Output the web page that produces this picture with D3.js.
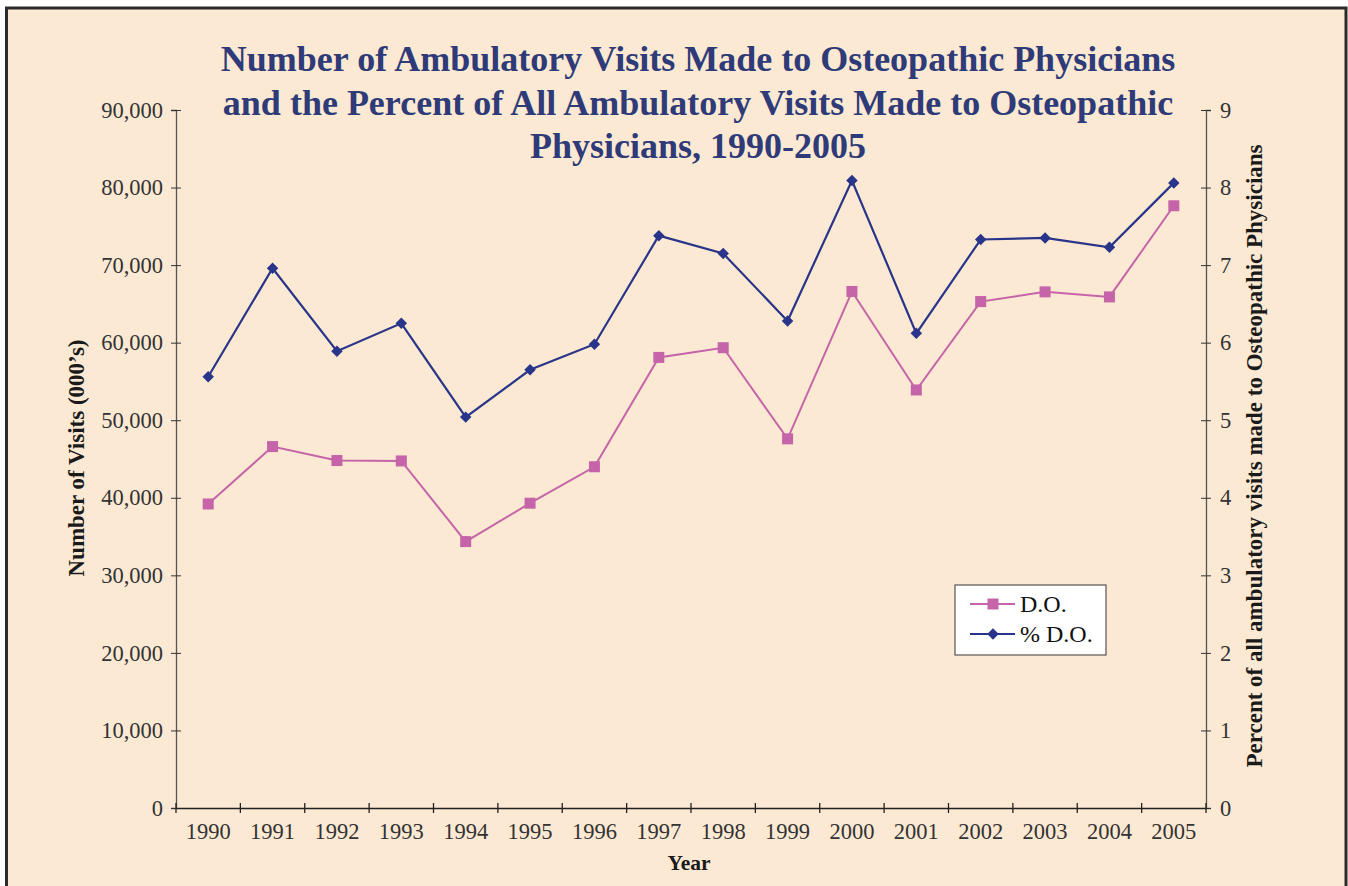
<!DOCTYPE html>
<html>
<head>
<meta charset="utf-8">
<script src="https://cdn.jsdelivr.net/npm/d3@7"></script>
<style>
  html, body { margin: 0; padding: 0; background: #ffffff; }
  svg { display: block; }
</style>
</head>
<body>
<svg id="chart" width="1348" height="886"></svg>
<script>
const years = ["1990","1991","1992","1993","1994","1995","1996","1997","1998","1999","2000","2001","2002","2003","2004","2005"];
const visits = [39200, 46600, 44800, 44750, 34350, 39300, 44000, 58100, 59350, 47600, 66600, 53900, 65300, 66550, 65900, 77650];
const pctVisits = [5.56, 6.96, 5.89, 6.25, 5.04, 5.65, 5.98, 7.38, 7.15, 6.28, 8.09, 6.12, 7.33, 7.35, 7.23, 8.06];
const leftTicks = [0, 10000, 20000, 30000, 40000, 50000, 60000, 70000, 80000, 90000];
const rightTicks = [0, 1, 2, 3, 4, 5, 6, 7, 8, 9];
const titleLines = [
  "Number of Ambulatory Visits Made to Osteopathic Physicians",
  "and the Percent of All Ambulatory Visits Made to Osteopathic",
  "Physicians, 1990-2005"
];

const font = "'Liberation Serif', 'DejaVu Serif', serif";
const pink = "#c564a8";
const navy = "#29358a";
const width = 1348, height = 886;
const margin = { top: 110, right: 142, bottom: 78, left: 176 };

const svg = d3.select("#chart");

// background + frame
svg.append("rect")
  .attr("x", 6.5).attr("y", 8)
  .attr("width", width - 8.5).attr("height", height + 10)
  .attr("fill", "#fce9d3")
  .attr("stroke", "#2b2b2b")
  .attr("stroke-width", 3);

const x = d3.scaleBand()
  .domain(years)
  .range([margin.left, width - margin.right]);

const y = d3.scaleLinear()
  .domain([0, 90000])
  .range([height - margin.bottom, margin.top]);

const y2 = d3.scaleLinear()
  .domain([0, 9])
  .range([height - margin.bottom, margin.top]);

const x0 = margin.left, x1 = width - margin.right, yb = height - margin.bottom;

// left axis
const gl = svg.append("g")
  .attr("transform", `translate(${x0},0)`)
  .call(d3.axisLeft(y).tickValues(leftTicks).tickFormat(d3.format(",")).tickSizeOuter(0).tickSize(5).tickPadding(8));
gl.select(".domain").attr("stroke", "#555").attr("stroke-width", 1.3);
gl.selectAll(".tick line").attr("x2", -5).attr("x1", 5).attr("stroke", "#333");
gl.selectAll("text")
  .attr("font-size", "22.5px").attr("font-family", font).attr("fill", "#333");

// right axis
const gr = svg.append("g")
  .attr("transform", `translate(${x1},0)`)
  .call(d3.axisRight(y2).tickValues(rightTicks).tickFormat(d3.format("d")).tickSizeOuter(0).tickSize(5).tickPadding(9));
gr.select(".domain").attr("stroke", "#555").attr("stroke-width", 1.3);
gr.selectAll(".tick line").attr("x1", -5).attr("x2", 5).attr("stroke", "#333");
gr.selectAll("text")
  .attr("font-size", "22.5px").attr("font-family", font).attr("fill", "#333");

// bottom axis (labels centered in band, ticks at band edges)
const gb = svg.append("g")
  .attr("transform", `translate(0,${yb})`)
  .call(d3.axisBottom(x).tickSize(0).tickPadding(15));
gb.select(".domain").attr("stroke", "#222").attr("stroke-width", 1.5);
gb.selectAll("text")
  .attr("font-size", "22.5px").attr("font-family", font).attr("fill", "#333");
gb.selectAll("line.cat")
  .data(years.concat(["end"]))
  .join("line")
  .attr("class", "cat")
  .attr("x1", d => d === "end" ? x1 : x(d))
  .attr("x2", d => d === "end" ? x1 : x(d))
  .attr("y1", -5).attr("y2", 5)
  .attr("stroke", "#222").attr("stroke-width", 1.3);

const cx = d => x(d) + x.bandwidth() / 2;

// D.O. line
const lineL = d3.line().x((d, i) => cx(years[i])).y(d => y(d));
svg.append("path")
  .datum(visits)
  .attr("fill", "none").attr("stroke", pink).attr("stroke-width", 2)
  .attr("d", lineL);
svg.selectAll("rect.sq")
  .data(visits)
  .join("rect")
  .attr("class", "sq")
  .attr("x", (d, i) => cx(years[i]) - 5.5)
  .attr("y", d => y(d) - 5.5)
  .attr("width", 11).attr("height", 11)
  .attr("fill", pink);

// % D.O. line
const lineR = d3.line().x((d, i) => cx(years[i])).y(d => y2(d));
svg.append("path")
  .datum(pctVisits)
  .attr("fill", "none").attr("stroke", navy).attr("stroke-width", 2.2)
  .attr("d", lineR);
const diamond = d3.symbol().type(d3.symbolSquare).size(66);
svg.selectAll("path.dm")
  .data(pctVisits)
  .join("path")
  .attr("class", "dm")
  .attr("transform", (d, i) => `translate(${cx(years[i])},${y2(d)}) rotate(45)`)
  .attr("d", diamond)
  .attr("fill", navy);

// title
svg.append("text")
  .attr("x", 698)
  .attr("text-anchor", "middle")
  .attr("font-family", font)
  .attr("font-weight", "bold")
  .attr("font-size", "36px")
  .attr("fill", "#2e3b78")
  .selectAll("tspan")
  .data(titleLines)
  .join("tspan")
  .attr("x", 698)
  .attr("y", (d, i) => 71 + i * 43.5)
  .text(d => d);

// axis titles
svg.append("text")
  .attr("transform", "translate(84,458) rotate(-90)")
  .attr("text-anchor", "middle")
  .attr("font-family", font).attr("font-weight", "bold").attr("font-size", "23px")
  .attr("fill", "#1a1a1a")
  .text("Number of Visits (000\u2019s)");

svg.append("text")
  .attr("transform", "translate(1262,456) rotate(-90)")
  .attr("text-anchor", "middle")
  .attr("font-family", font).attr("font-weight", "bold").attr("font-size", "23px")
  .attr("fill", "#1a1a1a")
  .text("Percent of all ambulatory visits made to Osteopathic Physicians");

svg.append("text")
  .attr("x", 689).attr("y", 870)
  .attr("text-anchor", "middle")
  .attr("font-family", font).attr("font-weight", "bold").attr("font-size", "21.5px")
  .attr("fill", "#1a1a1a")
  .text("Year");

// legend
const legend = svg.append("g").attr("transform", "translate(955,585)");
legend.append("rect")
  .attr("width", 151).attr("height", 70)
  .attr("fill", "#ffffff").attr("stroke", "#555").attr("stroke-width", 1.2);
const items = [
  { name: "D.O.", color: pink, shape: "square" },
  { name: "% D.O.", color: navy, shape: "diamond" }
];
const li = legend.selectAll("g.item")
  .data(items)
  .join("g")
  .attr("class", "item")
  .attr("transform", (d, i) => `translate(0,${19 + i * 30})`);
li.append("line")
  .attr("x1", 15).attr("x2", 60)
  .attr("stroke", d => d.color).attr("stroke-width", 2);
li.append("path")
  .attr("transform", d => d.shape === "square" ? "translate(38,0)" : "translate(38,0) rotate(45)")
  .attr("d", d => d3.symbol().type(d3.symbolSquare).size(d.shape === "square" ? 121 : 66)())
  .attr("fill", d => d.color);
li.append("text")
  .attr("x", 65).attr("y", 8)
  .attr("font-family", font).attr("font-size", "24px").attr("fill", "#111")
  .text(d => d.name);
</script>
</body>
</html>
